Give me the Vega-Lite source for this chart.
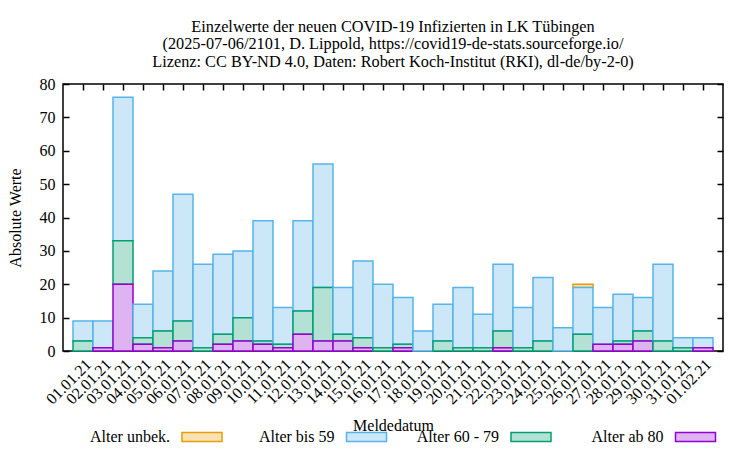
{
  "$schema": "https://vega.github.io/schema/vega-lite/v6.json",
  "width": 660,
  "height": 267,
  "autosize": "none",
  "padding": {"left": 63, "top": 84, "right": 27, "bottom": 99},
  "background": "white",
  "config": {
    "font": "Liberation Serif",
    "view": {"stroke": "black", "strokeWidth": 1.5},
    "axis": {"grid": false, "domain": false, "labelColor": "black", "titleColor": "black", "tickColor": "black", "tickWidth": 1.5, "zindex": 1}
  },
  "title": {
    "text": ["Einzelwerte der neuen COVID-19 Infizierten in LK Tübingen", "(2025-07-06/2101, D. Lippold, https://covid19-de-stats.sourceforge.io/", "Lizenz: CC BY-ND 4.0, Daten: Robert Koch-Institut (RKI), dl-de/by-2-0)"],
    "font": "Liberation Serif",
    "fontSize": 16.3,
    "fontWeight": "normal",
    "color": "black",
    "anchor": "middle",
    "lineHeight": 17.4,
    "offset": 6
  },
  "data": {
    "values": [
      {"Meldedatum": "01.01.21", "Gruppe": "Alter bis 59", "Anzahl": 6},
      {"Meldedatum": "01.01.21", "Gruppe": "Alter 60 - 79", "Anzahl": 3},
      {"Meldedatum": "02.01.21", "Gruppe": "Alter bis 59", "Anzahl": 8},
      {"Meldedatum": "02.01.21", "Gruppe": "Alter ab 80", "Anzahl": 1},
      {"Meldedatum": "03.01.21", "Gruppe": "Alter bis 59", "Anzahl": 43},
      {"Meldedatum": "03.01.21", "Gruppe": "Alter 60 - 79", "Anzahl": 13},
      {"Meldedatum": "03.01.21", "Gruppe": "Alter ab 80", "Anzahl": 20},
      {"Meldedatum": "04.01.21", "Gruppe": "Alter bis 59", "Anzahl": 10},
      {"Meldedatum": "04.01.21", "Gruppe": "Alter 60 - 79", "Anzahl": 2},
      {"Meldedatum": "04.01.21", "Gruppe": "Alter ab 80", "Anzahl": 2},
      {"Meldedatum": "05.01.21", "Gruppe": "Alter bis 59", "Anzahl": 18},
      {"Meldedatum": "05.01.21", "Gruppe": "Alter 60 - 79", "Anzahl": 5},
      {"Meldedatum": "05.01.21", "Gruppe": "Alter ab 80", "Anzahl": 1},
      {"Meldedatum": "06.01.21", "Gruppe": "Alter bis 59", "Anzahl": 38},
      {"Meldedatum": "06.01.21", "Gruppe": "Alter 60 - 79", "Anzahl": 6},
      {"Meldedatum": "06.01.21", "Gruppe": "Alter ab 80", "Anzahl": 3},
      {"Meldedatum": "07.01.21", "Gruppe": "Alter bis 59", "Anzahl": 25},
      {"Meldedatum": "07.01.21", "Gruppe": "Alter 60 - 79", "Anzahl": 1},
      {"Meldedatum": "08.01.21", "Gruppe": "Alter bis 59", "Anzahl": 24},
      {"Meldedatum": "08.01.21", "Gruppe": "Alter 60 - 79", "Anzahl": 3},
      {"Meldedatum": "08.01.21", "Gruppe": "Alter ab 80", "Anzahl": 2},
      {"Meldedatum": "09.01.21", "Gruppe": "Alter bis 59", "Anzahl": 20},
      {"Meldedatum": "09.01.21", "Gruppe": "Alter 60 - 79", "Anzahl": 7},
      {"Meldedatum": "09.01.21", "Gruppe": "Alter ab 80", "Anzahl": 3},
      {"Meldedatum": "10.01.21", "Gruppe": "Alter bis 59", "Anzahl": 36},
      {"Meldedatum": "10.01.21", "Gruppe": "Alter 60 - 79", "Anzahl": 1},
      {"Meldedatum": "10.01.21", "Gruppe": "Alter ab 80", "Anzahl": 2},
      {"Meldedatum": "11.01.21", "Gruppe": "Alter bis 59", "Anzahl": 11},
      {"Meldedatum": "11.01.21", "Gruppe": "Alter 60 - 79", "Anzahl": 1},
      {"Meldedatum": "11.01.21", "Gruppe": "Alter ab 80", "Anzahl": 1},
      {"Meldedatum": "12.01.21", "Gruppe": "Alter bis 59", "Anzahl": 27},
      {"Meldedatum": "12.01.21", "Gruppe": "Alter 60 - 79", "Anzahl": 7},
      {"Meldedatum": "12.01.21", "Gruppe": "Alter ab 80", "Anzahl": 5},
      {"Meldedatum": "13.01.21", "Gruppe": "Alter bis 59", "Anzahl": 37},
      {"Meldedatum": "13.01.21", "Gruppe": "Alter 60 - 79", "Anzahl": 16},
      {"Meldedatum": "13.01.21", "Gruppe": "Alter ab 80", "Anzahl": 3},
      {"Meldedatum": "14.01.21", "Gruppe": "Alter bis 59", "Anzahl": 14},
      {"Meldedatum": "14.01.21", "Gruppe": "Alter 60 - 79", "Anzahl": 2},
      {"Meldedatum": "14.01.21", "Gruppe": "Alter ab 80", "Anzahl": 3},
      {"Meldedatum": "15.01.21", "Gruppe": "Alter bis 59", "Anzahl": 23},
      {"Meldedatum": "15.01.21", "Gruppe": "Alter 60 - 79", "Anzahl": 3},
      {"Meldedatum": "15.01.21", "Gruppe": "Alter ab 80", "Anzahl": 1},
      {"Meldedatum": "16.01.21", "Gruppe": "Alter bis 59", "Anzahl": 19},
      {"Meldedatum": "16.01.21", "Gruppe": "Alter 60 - 79", "Anzahl": 1},
      {"Meldedatum": "17.01.21", "Gruppe": "Alter bis 59", "Anzahl": 14},
      {"Meldedatum": "17.01.21", "Gruppe": "Alter 60 - 79", "Anzahl": 1},
      {"Meldedatum": "17.01.21", "Gruppe": "Alter ab 80", "Anzahl": 1},
      {"Meldedatum": "18.01.21", "Gruppe": "Alter bis 59", "Anzahl": 6},
      {"Meldedatum": "19.01.21", "Gruppe": "Alter bis 59", "Anzahl": 11},
      {"Meldedatum": "19.01.21", "Gruppe": "Alter 60 - 79", "Anzahl": 3},
      {"Meldedatum": "20.01.21", "Gruppe": "Alter bis 59", "Anzahl": 18},
      {"Meldedatum": "20.01.21", "Gruppe": "Alter 60 - 79", "Anzahl": 1},
      {"Meldedatum": "21.01.21", "Gruppe": "Alter bis 59", "Anzahl": 10},
      {"Meldedatum": "21.01.21", "Gruppe": "Alter 60 - 79", "Anzahl": 1},
      {"Meldedatum": "22.01.21", "Gruppe": "Alter bis 59", "Anzahl": 20},
      {"Meldedatum": "22.01.21", "Gruppe": "Alter 60 - 79", "Anzahl": 5},
      {"Meldedatum": "22.01.21", "Gruppe": "Alter ab 80", "Anzahl": 1},
      {"Meldedatum": "23.01.21", "Gruppe": "Alter bis 59", "Anzahl": 12},
      {"Meldedatum": "23.01.21", "Gruppe": "Alter 60 - 79", "Anzahl": 1},
      {"Meldedatum": "24.01.21", "Gruppe": "Alter bis 59", "Anzahl": 19},
      {"Meldedatum": "24.01.21", "Gruppe": "Alter 60 - 79", "Anzahl": 3},
      {"Meldedatum": "25.01.21", "Gruppe": "Alter bis 59", "Anzahl": 7},
      {"Meldedatum": "26.01.21", "Gruppe": "Alter unbek.", "Anzahl": 1},
      {"Meldedatum": "26.01.21", "Gruppe": "Alter bis 59", "Anzahl": 14},
      {"Meldedatum": "26.01.21", "Gruppe": "Alter 60 - 79", "Anzahl": 5},
      {"Meldedatum": "27.01.21", "Gruppe": "Alter bis 59", "Anzahl": 11},
      {"Meldedatum": "27.01.21", "Gruppe": "Alter ab 80", "Anzahl": 2},
      {"Meldedatum": "28.01.21", "Gruppe": "Alter bis 59", "Anzahl": 14},
      {"Meldedatum": "28.01.21", "Gruppe": "Alter 60 - 79", "Anzahl": 1},
      {"Meldedatum": "28.01.21", "Gruppe": "Alter ab 80", "Anzahl": 2},
      {"Meldedatum": "29.01.21", "Gruppe": "Alter bis 59", "Anzahl": 10},
      {"Meldedatum": "29.01.21", "Gruppe": "Alter 60 - 79", "Anzahl": 3},
      {"Meldedatum": "29.01.21", "Gruppe": "Alter ab 80", "Anzahl": 3},
      {"Meldedatum": "30.01.21", "Gruppe": "Alter bis 59", "Anzahl": 23},
      {"Meldedatum": "30.01.21", "Gruppe": "Alter 60 - 79", "Anzahl": 3},
      {"Meldedatum": "31.01.21", "Gruppe": "Alter bis 59", "Anzahl": 3},
      {"Meldedatum": "31.01.21", "Gruppe": "Alter 60 - 79", "Anzahl": 1},
      {"Meldedatum": "01.02.21", "Gruppe": "Alter bis 59", "Anzahl": 3},
      {"Meldedatum": "01.02.21", "Gruppe": "Alter ab 80", "Anzahl": 1}
    ]
  },
  "transform": [
    {"calculate": "indexof(['Alter ab 80','Alter 60 - 79','Alter bis 59','Alter unbek.'], datum.Gruppe)", "as": "rang"}
  ],
  "resolve": {"axis": {"x": "independent", "y": "independent"}},
  "layer": [
    {
      "mark": {"type": "bar", "strokeWidth": 1.5, "fillOpacity": 1},
      "encoding": {
        "x": {
          "field": "Meldedatum", "type": "ordinal",
          "sort": ["01.01.21","02.01.21","03.01.21","04.01.21","05.01.21","06.01.21","07.01.21","08.01.21","09.01.21","10.01.21","11.01.21","12.01.21","13.01.21","14.01.21","15.01.21","16.01.21","17.01.21","18.01.21","19.01.21","20.01.21","21.01.21","22.01.21","23.01.21","24.01.21","25.01.21","26.01.21","27.01.21","28.01.21","29.01.21","30.01.21","31.01.21","01.02.21"],
          "scale": {"paddingInner": 0, "paddingOuter": 0.5},
          "axis": {"orient": "bottom", "labelAngle": -45, "ticks": false, "labelPadding": 5, "labelFont": "Liberation Serif", "labelFontSize": 16, "title": "Meldedatum", "titleFont": "Liberation Serif", "titleFontSize": 16, "titleFontWeight": "normal", "titlePadding": 11}
        },
        "y": {
          "field": "Anzahl", "type": "quantitative", "stack": "zero",
          "scale": {"domain": [0, 80], "nice": false},
          "axis": {"orient": "left", "values": [0,10,20,30,40,50,60,70,80], "tickSize": -6, "labelPadding": 14, "labelFont": "Liberation Serif", "labelFontSize": 16, "title": "Absolute Werte", "titleFont": "Liberation Serif", "titleFontSize": 16, "titleFontWeight": "normal", "titlePadding": 16}
        },
        "order": {"field": "rang", "type": "quantitative", "sort": "ascending"},
        "fill": {
          "field": "Gruppe", "type": "nominal",
          "scale": {"domain": ["Alter unbek.", "Alter bis 59", "Alter 60 - 79", "Alter ab 80"], "range": ["#f8e2b3", "#cce8f8", "#b3e2d5", "#dfb3f2"]},
          "legend": {
            "orient": "none", "legendX": 118, "legendY": 332, "direction": "horizontal", "columns": 4, "title": null,
            "symbolType": "M-1,-0.225L1,-0.225L1,0.225L-1,0.225Z", "symbolSize": 1600, "symbolStrokeWidth": 1.5,
            "labelAlign": "right", "labelOffset": -53, "labelFont": "Liberation Serif", "labelFontSize": 16, "labelColor": "black",
            "gridAlign": "all", "columnPadding": 26.5,
            "encode": {"symbols": {"update": {"stroke": {"scale": "stroke", "field": "value"}, "strokeWidth": {"value": 1.5}}}}
          }
        },
        "stroke": {
          "field": "Gruppe", "type": "nominal",
          "scale": {"domain": ["Alter unbek.", "Alter bis 59", "Alter 60 - 79", "Alter ab 80"], "range": ["#e69f00", "#56b4e9", "#009e73", "#9400d3"]},
          "legend": null
        }
      }
    },
    {
      "mark": {"type": "bar", "opacity": 0},
      "encoding": {
        "x": {
          "field": "Meldedatum", "type": "ordinal",
          "sort": ["01.01.21","02.01.21","03.01.21","04.01.21","05.01.21","06.01.21","07.01.21","08.01.21","09.01.21","10.01.21","11.01.21","12.01.21","13.01.21","14.01.21","15.01.21","16.01.21","17.01.21","18.01.21","19.01.21","20.01.21","21.01.21","22.01.21","23.01.21","24.01.21","25.01.21","26.01.21","27.01.21","28.01.21","29.01.21","30.01.21","31.01.21","01.02.21"],
          "axis": {"orient": "top", "labels": false, "tickSize": -6, "title": null}
        },
        "y": {
          "field": "Anzahl", "type": "quantitative", "stack": "zero",
          "axis": {"orient": "right", "labels": false, "values": [0,10,20,30,40,50,60,70,80], "tickSize": -6, "title": null}
        }
      }
    }
  ]
}
